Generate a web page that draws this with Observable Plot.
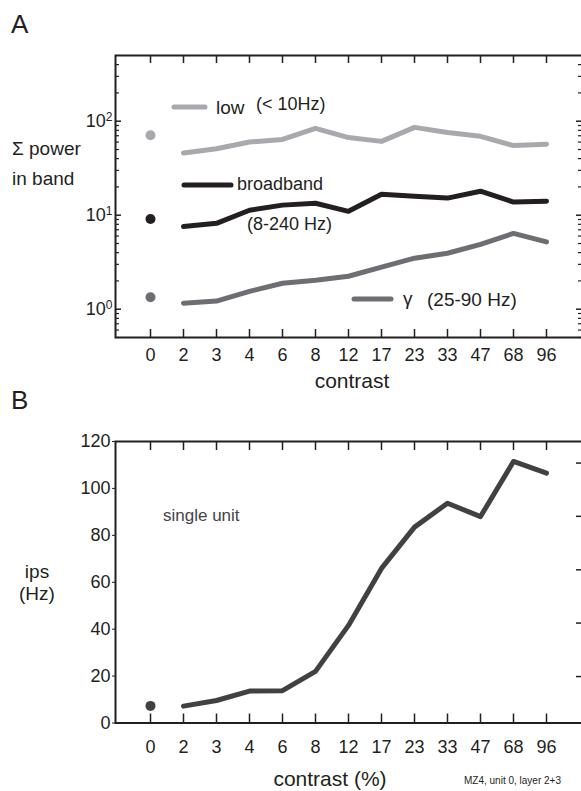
<!DOCTYPE html>
<html><head><meta charset="utf-8">
<script src="https://cdn.jsdelivr.net/npm/d3@7"></script>
<script src="https://cdn.jsdelivr.net/npm/@observablehq/plot@0.6"></script>
<style>
body{margin:0;background:#fff;}
#wrap{position:relative;width:581px;height:791px;overflow:hidden;font-family:"Liberation Sans",Arial,sans-serif;}
#wrap svg{position:absolute;left:0;}
</style></head><body><div id="wrap"></div>
<script>
// ---- data ----
const contrasts = ["0","2","3","4","6","8","12","17","23","33","47","68","96"];
const lowPower   = [71, 46, 51, 60, 64, 84, 67, 61, 86, 76, 69, 55, 57];
const broadPower = [9.1, 7.6, 8.2, 11.3, 12.8, 13.4, 11.0, 16.7, 15.9, 15.2, 18.0, 13.8, 14.1];
const gammaPower = [1.34, 1.16, 1.22, 1.55, 1.89, 2.03, 2.24, 2.8, 3.49, 3.94, 4.9, 6.4, 5.2];
const spikeRate  = [7.3, 7.2, 9.6, 13.6, 13.8, 22, 41.6, 65.9, 83.5, 93.7, 88, 111.5, 106.5];
const powerDomain = [0.5, 500];
const powerMajorTicks = [1, 10, 100];
const powerMinorTicks = [0.5,0.6,0.7,0.8,0.9,2,3,4,5,6,7,8,9,20,30,40,50,60,70,80,90,200,300,400];
const rateDomain = [0, 120];
const rateTicks = [0, 20, 40, 60, 80, 100, 120];
const rateRightTicks = [19.8, 42.6, 65.3, 88.1, 110.8];

const colLow = "#a7a9ac", colBroad = "#231f20", colGamma = "#6d6e71", colRate = "#414042";
const ink = "#231f20";
const font = "Liberation Sans, Arial, sans-serif";

const rows = contrasts.map((c, i) => ({c, low: lowPower[i], broad: broadPower[i], gamma: gammaPower[i], rate: spikeRate[i]}));
const base = rows.filter(d => d.c === "0");
const stim = rows.filter(d => d.c !== "0");

const W = 581, ML = 115, MR = 0, MT = 55;
const FW = W - ML - MR;       // frame width
const FH = 282;               // frame height

function common(height, marginBottom) {
  return {
    width: W, height, marginLeft: ML, marginRight: MR, marginTop: MT, marginBottom,
    style: {fontFamily: font, fontSize: "18px", color: ink, background: "transparent", overflow: "visible"},
    x: {type: "point", domain: contrasts, padding: 1}
  };
}
const lineOpt = {strokeWidth: 5, strokeLinecap: "round", strokeLinejoin: "round"};

// ---- panel A ----
const A = Plot.plot({
  ...common(400, 63),
  y: {type: "log", domain: powerDomain},
  marks: [
    Plot.frame({stroke: ink, strokeWidth: 2, insetRight: -4}),
    Plot.ruleX(contrasts, {x: d => d, insetBottom: FH - 8, stroke: ink, strokeWidth: 1.5}),
    Plot.ruleX(contrasts, {x: d => d, insetTop: FH - 8, stroke: ink, strokeWidth: 1.5}),
    Plot.ruleY(powerMinorTicks, {y: d => d, insetRight: FW - 4, stroke: ink, strokeWidth: 1.2}),
    Plot.ruleY(powerMajorTicks, {y: d => d, insetRight: FW - 6, stroke: ink, strokeWidth: 1.5}),
    Plot.ruleY(powerMinorTicks, {y: d => d, insetLeft: FW - 3, stroke: ink, strokeWidth: 1.2}),
    Plot.ruleY(powerMajorTicks, {y: d => d, insetLeft: FW - 5, stroke: ink, strokeWidth: 1.5}),
    Plot.axisX({anchor: "bottom", tickSize: 0, tickPadding: 11, fontSize: 18, label: null}),
    Plot.axisY({anchor: "left", ticks: powerMajorTicks, tickSize: 0, tickPadding: 3, fontSize: 18, tickFormat: () => "10", label: null}),
    Plot.line(stim, {x: "c", y: "low", stroke: colLow, ...lineOpt}),
    Plot.line(stim, {x: "c", y: "broad", stroke: colBroad, ...lineOpt}),
    Plot.line(stim, {x: "c", y: "gamma", stroke: colGamma, ...lineOpt}),
    Plot.dot(base, {x: "c", y: "low", r: 5, fill: colLow}),
    Plot.dot(base, {x: "c", y: "broad", r: 5, fill: colBroad}),
    Plot.dot(base, {x: "c", y: "gamma", r: 5, fill: colGamma})
  ]
});
A.style.top = "0px";
// superscript exponents on the log tick labels
A.querySelectorAll('g[aria-label="y-axis tick label"] text').forEach((t, i) => {
  const ts = document.createElementNS("http://www.w3.org/2000/svg", "tspan");
  ts.setAttribute("dy", "-0.5em");
  ts.setAttribute("font-size", "12");
  ts.textContent = String(Math.round(Math.log10(powerMajorTicks[i])));
  t.appendChild(ts);
});

// ---- panel B ----
const B = Plot.plot({
  ...common(405, 68.5),
  y: {type: "linear", domain: rateDomain},
  marks: [
    Plot.frame({stroke: ink, strokeWidth: 2, insetRight: -4}),
    Plot.ruleX(contrasts, {x: d => d, insetBottom: FH - 1.5 - 8, stroke: ink, strokeWidth: 1.5}),
    Plot.ruleX(contrasts, {x: d => d, insetTop: FH - 1.5 - 8, stroke: ink, strokeWidth: 1.5}),
    Plot.ruleY(rateRightTicks, {y: d => d, insetLeft: FW - 5, stroke: ink, strokeWidth: 1.5}),
    Plot.axisX({anchor: "bottom", tickSize: 0, tickPadding: 17, fontSize: 18, label: null}),
    Plot.axisY({anchor: "left", ticks: rateTicks, tickSize: 3, tickPadding: 2, fontSize: 18, label: null}),
    Plot.line(stim, {x: "c", y: "rate", stroke: colRate, ...lineOpt}),
    Plot.dot(base, {x: "c", y: "rate", r: 5, fill: colRate})
  ]
});
B.style.top = "386px";

const wrap = document.getElementById("wrap");
wrap.appendChild(A);
wrap.appendChild(B);

// ---- annotations overlay ----
const ov = d3.select(wrap).append("svg")
  .attr("width", W).attr("height", 791)
  .style("top", "0px").style("pointer-events", "none")
  .attr("font-family", font).attr("fill", ink);

function txt(s, x, y, size, opts = {}) {
  const t = ov.append("text").attr("x", x).attr("y", y).attr("font-size", size).text(s);
  if (opts.anchor) t.attr("text-anchor", opts.anchor);
  if (opts.fill) t.attr("fill", opts.fill);
  return t;
}
function seg(x1, x2, y, color) {
  ov.append("line").attr("x1", x1).attr("x2", x2).attr("y1", y).attr("y2", y)
    .attr("stroke", color).attr("stroke-width", 5).attr("stroke-linecap", "round");
}
txt("A", 11, 33, 26);
txt("B", 11, 409, 26);
txt("Σ power", 12, 155, 19);
txt("in band", 12, 185, 19);
txt("ips", 37, 578, 19, {anchor: "middle"});
txt("(Hz)", 37, 600, 19, {anchor: "middle"});

seg(174, 205, 107, colLow);
txt("low", 216, 114, 19);
txt("(< 10Hz)", 256, 110, 18);
seg(184, 231, 185, colBroad);
txt("broadband", 237, 190, 18);
txt("(8-240 Hz)", 247, 230, 18);
seg(354, 391, 299, colGamma);
txt("γ", 403, 305, 19);
txt("(25-90 Hz)", 427, 306, 19);

txt("single unit", 163, 521, 17, {fill: "#444446"});
txt("contrast", 352, 388, 21, {anchor: "middle"});
txt("contrast (%)", 330, 786, 21, {anchor: "middle"});
txt("MZ4, unit 0, layer 2+3", 464, 784, 10);
</script></body></html>
